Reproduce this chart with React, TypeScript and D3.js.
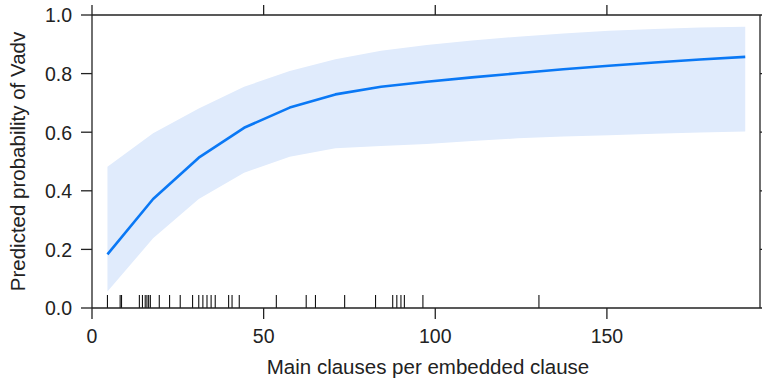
import React from "react";
import * as d3 from "d3";

// Effect-plot evaluation points
const xValues = [4.5, 17.8, 31.1, 44.3, 57.6, 70.9, 84.2, 97.5, 110.7, 124.0, 137.3, 150.6, 163.9, 177.1, 190.3];
const fitValues = [0.183, 0.372, 0.513, 0.615, 0.684, 0.729, 0.755, 0.772, 0.787, 0.801, 0.815, 0.827, 0.838, 0.848, 0.857];
const upperValues = [0.482, 0.596, 0.681, 0.755, 0.809, 0.849, 0.878, 0.898, 0.913, 0.926, 0.937, 0.946, 0.952, 0.957, 0.96];
const lowerValues = [0.056, 0.238, 0.372, 0.462, 0.516, 0.545, 0.553, 0.56, 0.57, 0.579, 0.585, 0.59, 0.595, 0.599, 0.602];

// Rug of observed values
const rugValues = [4.5, 8.2, 8.6, 13.8, 14.7, 15.5, 16.0, 16.5, 17.0, 19.6, 22.6, 25.7, 29.3, 31.1, 32.3, 33.5, 34.7, 35.9, 39.8, 40.8, 42.9, 53.7, 62.4, 65.1, 73.6, 82.6, 87.6, 88.8, 90.0, 91.0, 96.4, 130.2];

const xTicks = [0, 50, 100, 150];
const yTicks = [0, 0.2, 0.4, 0.6, 0.8, 1.0];

const xTitle = "Main clauses per embedded clause";
const yTitle = "Predicted probability of Vadv";

export default function App() {
  const W = 762;
  const H = 383;
  const left = 92;
  const right = 760;
  const top = 15;
  const bottom = 308;
  const x = d3.scaleLinear().domain([0, 194.6]).range([left, right]);
  const y = d3.scaleLinear().domain([0, 1]).range([bottom, top]);

  const pts = xValues.map((v, i) => ({ x: v, fit: fitValues[i], lo: lowerValues[i], hi: upperValues[i] }));
  const area = d3
    .area<any>()
    .x((d) => x(d.x))
    .y0((d) => y(d.lo))
    .y1((d) => y(d.hi));
  const line = d3
    .line<any>()
    .x((d) => x(d.x))
    .y((d) => y(d.fit));

  const font = "Liberation Sans, Arial, Helvetica, sans-serif";
  const axisColor = "#222";
  const sw = 1.3;

  return (
    <svg width={W} height={H} style={{ position: "absolute", left: 0, top: 0, fontFamily: font }}>
      <rect width={W} height={H} fill="#fff" />
      <path d={area(pts) || ""} fill="#e0ebfc" stroke="none" />
      <path d={line(pts) || ""} fill="none" stroke="#0a78f5" strokeWidth={2.6} strokeLinejoin="round" />
      {rugValues.map((v, i) => (
        <line key={"r" + i} x1={x(v)} x2={x(v)} y1={bottom - 13} y2={bottom} stroke="#111" strokeWidth={1.1} />
      ))}
      {/* box */}
      <line x1={left} x2={right} y1={top} y2={top} stroke={axisColor} strokeWidth={sw} />
      <line x1={left} x2={right} y1={bottom} y2={bottom} stroke={axisColor} strokeWidth={sw} />
      <line x1={left} x2={left} y1={top} y2={bottom} stroke={axisColor} strokeWidth={sw} />
      <line x1={right} x2={right} y1={top} y2={bottom} stroke={axisColor} strokeWidth={sw} />
      {/* y ticks */}
      {yTicks.map((t) => (
        <g key={"y" + t}>
          <line x1={left - 11} x2={left} y1={y(t)} y2={y(t)} stroke={axisColor} strokeWidth={sw} />
          <line x1={right} x2={right + 11} y1={y(t)} y2={y(t)} stroke={axisColor} strokeWidth={sw} />
          <text x={72} y={y(t) + 7.3} textAnchor="end" fontSize={19.5} fill="#222">
            {t.toFixed(1)}
          </text>
        </g>
      ))}
      {/* x ticks */}
      {xTicks.map((t) => (
        <g key={"x" + t}>
          <line x1={x(t)} x2={x(t)} y1={bottom} y2={bottom + 11} stroke={axisColor} strokeWidth={sw} />
          <line x1={x(t)} x2={x(t)} y1={top - 10} y2={top} stroke={axisColor} strokeWidth={sw} />
          <text x={x(t)} y={343} textAnchor="middle" fontSize={19.5} fill="#222">
            {t}
          </text>
        </g>
      ))}
      <text x={428} y={374} textAnchor="middle" fontSize={20.5} fill="#222">
        {xTitle}
      </text>
      <text
        transform={`translate(25,${(top + bottom) / 2}) rotate(-90)`}
        textAnchor="middle"
        fontSize={20.5}
        fill="#222"
      >
        {yTitle}
      </text>
    </svg>
  );
}
